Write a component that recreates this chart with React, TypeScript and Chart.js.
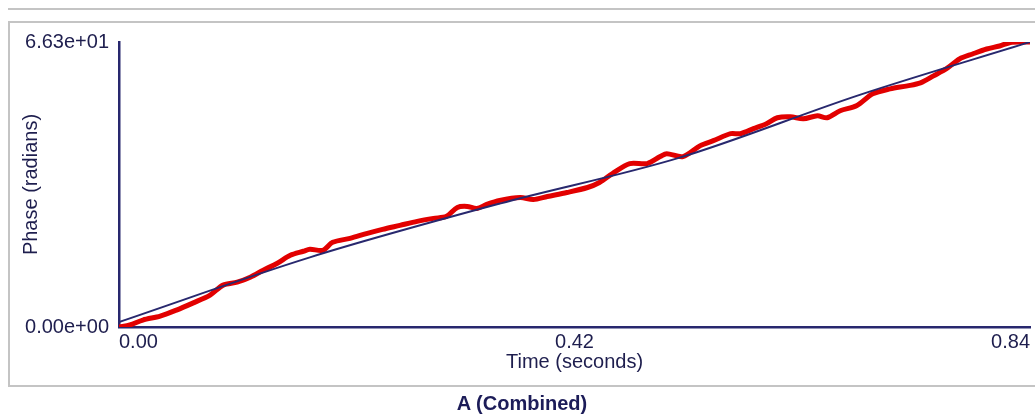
import React, { useEffect, useRef } from "react";
import { Chart, registerables } from "chart.js";

Chart.register(...registerables);

const timeTicks = [0, 0.42, 0.84];
const phaseTicks = [0, 66.3];

const redTimes = [
  0.0, 0.01, 0.022, 0.038, 0.053, 0.068, 0.084, 0.096, 0.109, 0.121, 0.133, 0.146,
  0.158, 0.17, 0.176, 0.188, 0.197, 0.213, 0.229, 0.243, 0.259, 0.275, 0.29, 0.302,
  0.312, 0.321, 0.33, 0.339, 0.351, 0.37, 0.382, 0.395, 0.413, 0.432, 0.443, 0.455,
  0.471, 0.487, 0.499, 0.505, 0.52, 0.536, 0.548, 0.564, 0.573, 0.585, 0.597, 0.607,
  0.619, 0.631, 0.644, 0.653, 0.665, 0.68, 0.695, 0.711, 0.727, 0.739, 0.751, 0.764,
  0.775, 0.787, 0.8, 0.812, 0.822, 0.833, 0.84,
];
const redPhase = [
  0.0, 0.46, 1.62, 2.55, 3.94, 5.56, 7.42, 9.74, 10.43, 11.59, 13.21, 14.84,
  16.69, 17.62, 18.08, 17.85, 19.7, 20.63, 21.79, 22.72, 23.64, 24.57, 25.27, 25.73,
  27.82, 28.05, 27.58, 28.51, 29.44, 30.13, 29.67, 30.37, 31.29, 32.45, 33.61, 35.7,
  38.02, 38.02, 39.64, 40.33, 39.64, 42.19, 43.35, 44.97, 44.97, 46.13, 47.29, 48.68,
  48.91, 48.45, 49.14, 48.68, 50.3, 51.46, 54.24, 55.4, 56.1, 56.79, 58.41, 60.27,
  62.35, 63.51, 64.67, 65.37, 66.2, 66.3, 66.3,
];

const fitTimes = [0, 0.176, 0.351, 0.517, 0.683, 0.84];
const fitPhase = [1.16, 16.2, 28.7, 39.4, 54.0, 66.3];

const FONT = "'Liberation Sans', Arial, Helvetica, sans-serif";
const NAVY = "#28286e";
const TEXT = "#1e1e4e";

function fmtExp(v: number): string {
  const [m, e] = v.toExponential(2).split("e");
  const sign = e[0] === "-" ? "-" : "+";
  const digits = e.replace(/^[+-]/, "").padStart(2, "0");
  return `${m}e${sign}${digits}`;
}

export default function App() {
  const ref = useRef<HTMLCanvasElement | null>(null);

  useEffect(() => {
    if (!ref.current) return;
    Chart.defaults.font.family = FONT;
    const chart = new Chart(ref.current, {
      type: "line",
      data: {
        datasets: [
          {
            label: "Fit",
            data: fitTimes.map((t, i) => ({ x: t, y: fitPhase[i] })),
            borderColor: NAVY,
            borderWidth: 2,
            pointRadius: 0,
            tension: 0.4,
            cubicInterpolationMode: "monotone",
            fill: false,
          },
          {
            label: "Phase",
            data: redTimes.map((t, i) => ({ x: t, y: redPhase[i] })),
            borderColor: "rgb(226,0,0)",
            borderWidth: 5,
            pointRadius: 0,
            tension: 0.3,
            fill: false,
          },
        ],
      },
      options: {
        animation: false,
        responsive: false,
        maintainAspectRatio: false,
        layout: { padding: { left: 19, right: 5, top: 42, bottom: 43 } },
        plugins: {
          legend: { display: false },
          tooltip: { enabled: false },
          title: { display: false },
        },
        scales: {
          x: {
            type: "linear",
            min: 0,
            max: 0.84,
            afterBuildTicks: (s: any) => {
              s.ticks = timeTicks.map((v) => ({ value: v }));
            },
            afterFit: (s: any) => {
              s.height = 47;
            },
            grid: { display: false, drawTicks: false },
            border: { display: true, color: NAVY, width: 2.5 },
            ticks: {
              align: "inner",
              padding: 3,
              maxRotation: 0,
              color: TEXT,
              font: { size: 20, family: FONT },
              callback: (v: any) => Number(v).toFixed(2),
            },
            title: {
              display: true,
              text: "Time (seconds)",
              color: TEXT,
              font: { size: 20, family: FONT },
              padding: { top: 0, bottom: 0 },
            },
          },
          y: {
            type: "linear",
            min: 0,
            max: 66.3,
            afterBuildTicks: (s: any) => {
              s.ticks = phaseTicks.map((v) => ({ value: v }));
            },
            afterFit: (s: any) => {
              s.width = 100;
            },
            grid: { display: false, drawTicks: false },
            border: { display: true, color: NAVY, width: 2.5 },
            ticks: {
              padding: 10,
              color: TEXT,
              font: { size: 20, family: FONT },
              callback: (v: any) => fmtExp(Number(v)),
            },
            title: {
              display: true,
              text: "Phase (radians)",
              color: TEXT,
              font: { size: 20, family: FONT },
              padding: { top: 0, bottom: 0 },
            },
          },
        },
      },
    } as any);
    return () => chart.destroy();
  }, []);

  return (
    <div
      style={{
        position: "fixed",
        left: 0,
        top: 0,
        width: 1035,
        height: 417,
        background: "#fff",
        overflow: "hidden",
      }}
    >
      <div
        style={{
          position: "absolute",
          left: 8,
          top: 8,
          width: 1030,
          height: 2,
          background: "#c4c4c4",
        }}
      />
      <div
        style={{
          position: "absolute",
          left: 8,
          top: 21,
          width: 1040,
          height: 366,
          border: "2px solid #c4c4c4",
          boxSizing: "border-box",
        }}
      />
      <canvas
        ref={ref}
        width={1035}
        height={417}
        style={{ position: "absolute", left: 0, top: 0, width: 1035, height: 417 }}
      />
      <div
        style={{
          position: "absolute",
          left: 0,
          top: 391,
          width: 1044,
          textAlign: "center",
          fontFamily: FONT,
          fontWeight: "bold",
          fontSize: 20,
          color: "#1c1c58",
          lineHeight: "24px",
        }}
      >
        A (Combined)
      </div>
    </div>
  );
}
